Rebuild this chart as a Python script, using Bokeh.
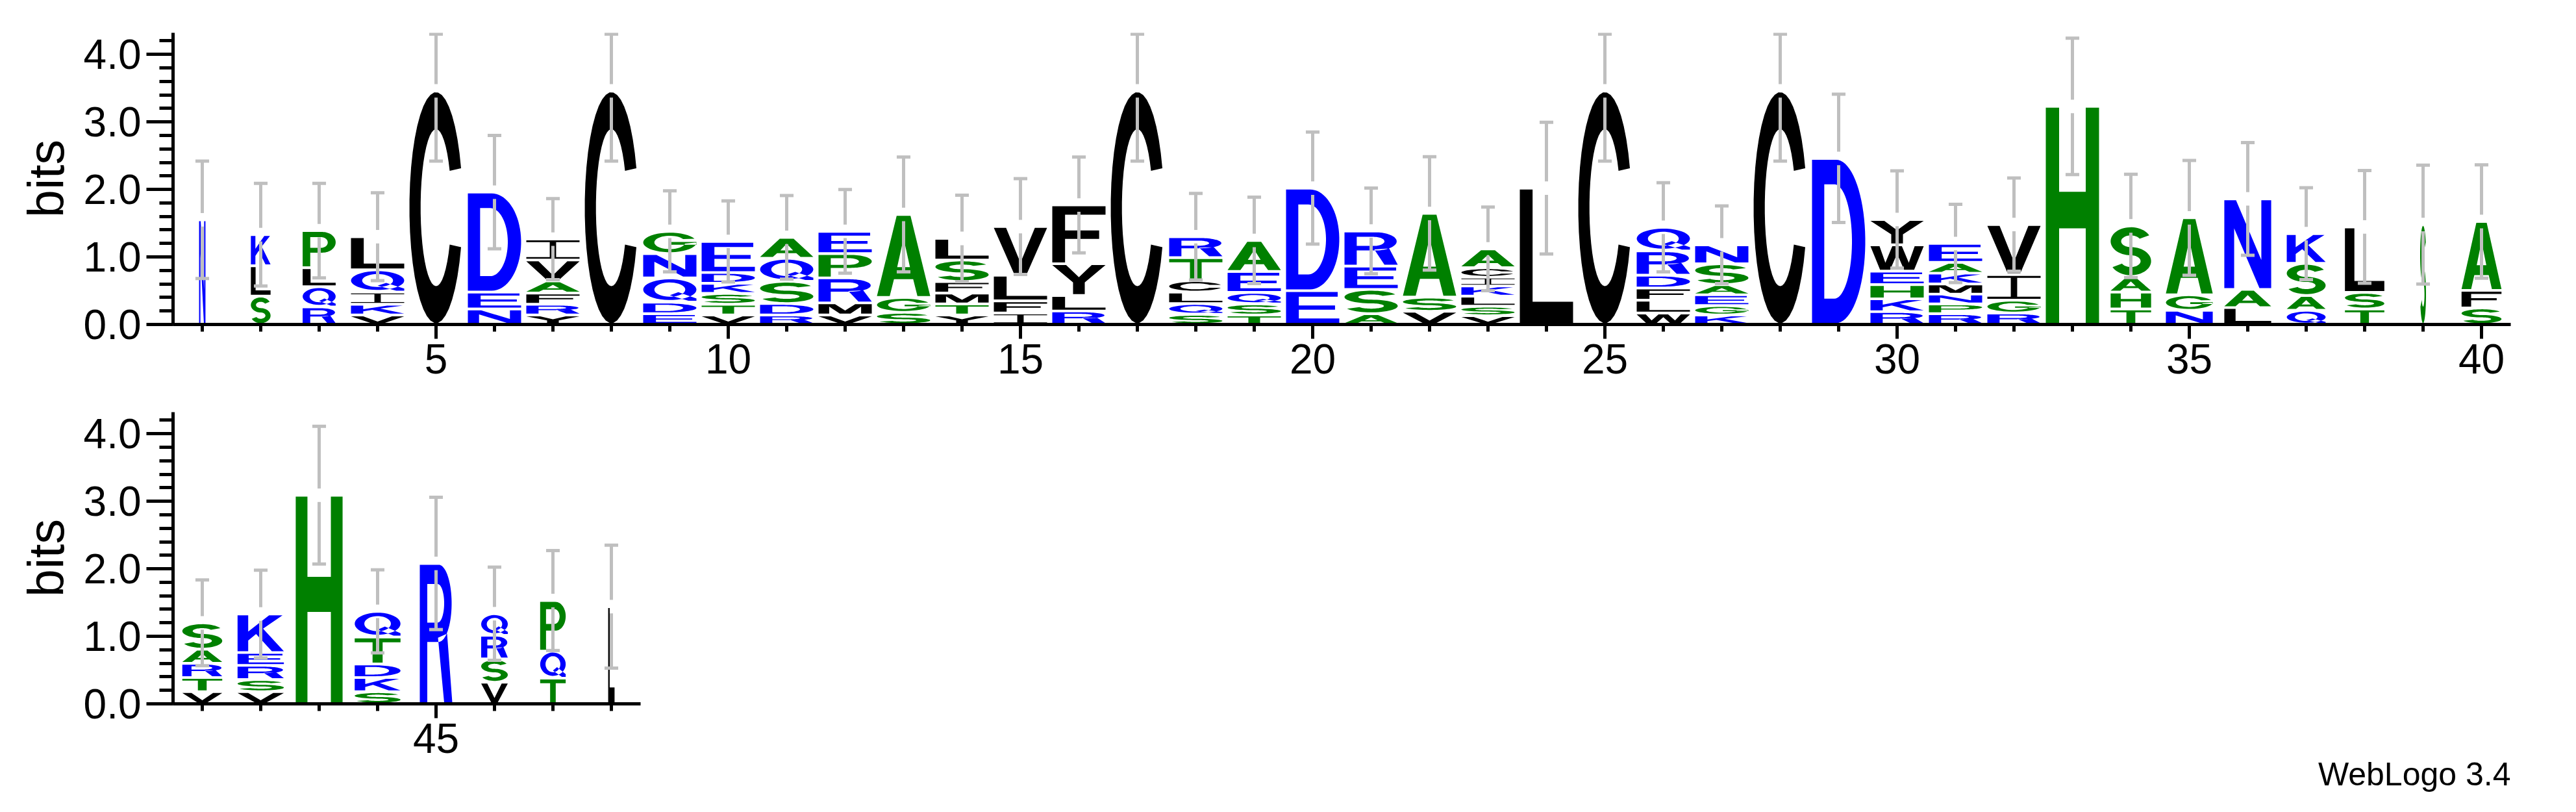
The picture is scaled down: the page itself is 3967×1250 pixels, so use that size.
import numpy as np
from bokeh.plotting import figure
from bokeh.models import (Range1d, SingleIntervalTicker, PrintfTickFormatter,
                          ColumnDataSource, Title)
from bokeh.layouts import column
from bokeh.embed import file_html
from bokeh.resources import INLINE

# ------------------------------------------------------------------ data
positions = list(range(1, 49))
# letters of each stack, bottom -> top
stack_letters = ["N", "SLK", "RQLP", "VKIQL", "C", "NED", "YRFAVI", "C", "EDQNG", "VTSKDE",
                 "RDSQA", "VMRPE", "SGA", "YTMFSL", "IFLV", "RLYF", "C", "SQLCTR", "TSQEA", "ED",
                 "ASER", "VSA", "VSLKICA", "L", "C", "WLFDRQ", "KGEASN", "C", "D", "RKHEWY",
                 "RPNMKAE", "RGIV", "H", "THAS", "NGA", "LAN", "QASK", "TSL", "S", "SFA",
                 "VTRAS", "VSREK", "H", "SKDTQ", "R", "VSRQ", "TQP", "L"]
# letter heights in bits, bottom -> top
stack_heights = [
    [1.55], [0.42, 0.45, 0.46], [0.26, 0.30, 0.28, 0.55], [0.14, 0.16, 0.18, 0.33, 0.49],
    [3.46], [0.23, 0.25, 1.48], [0.14, 0.16, 0.165, 0.18, 0.31, 0.31], [3.46],
    [0.16, 0.17, 0.36, 0.36, 0.33], [0.14, 0.16, 0.16, 0.15, 0.16, 0.46],
    [0.14, 0.17, 0.33, 0.34, 0.31], [0.14, 0.18, 0.37, 0.36, 0.33],
    [0.18, 0.22, 1.23], [0.14, 0.165, 0.16, 0.17, 0.32, 0.32], [0.17, 0.18, 0.38, 0.72],
    [0.20, 0.23, 0.47, 0.87], [3.46], [0.15, 0.16, 0.17, 0.17, 0.34, 0.31],
    [0.14, 0.165, 0.17, 0.31, 0.46], [0.50, 1.52], [0.16, 0.36, 0.345, 0.52],
    [0.195, 0.21, 1.24], [0.13, 0.14, 0.15, 0.15, 0.13, 0.14, 0.28], [2.02], [3.46],
    [0.17, 0.19, 0.18, 0.19, 0.36, 0.35], [0.14, 0.14, 0.16, 0.15, 0.31, 0.28], [3.46],
    [2.46], [0.19, 0.19, 0.21, 0.20, 0.39, 0.375], [0.16, 0.145, 0.145, 0.15, 0.16, 0.16, 0.28],
    [0.17, 0.19, 0.38, 0.74], [3.23], [0.23, 0.25, 0.23, 0.75], [0.21, 0.23, 1.14],
    [0.25, 0.27, 1.34], [0.21, 0.22, 0.475, 0.44], [0.23, 0.245, 0.97], [1.48],
    [0.245, 0.26, 1.02],
    [0.18, 0.21, 0.21, 0.21, 0.39], [0.18, 0.18, 0.21, 0.19, 0.57], [3.09],
    [0.18, 0.21, 0.20, 0.40, 0.38], [2.08], [0.32, 0.345, 0.35, 0.32], [0.38, 0.40, 0.75],
    [1.44]]
# relative stack width (fraction of non-gap sequences)
stack_width = [0.12, 0.37, 0.62] + [1.0] * 30 + [0.76, 0.88, 0.88, 0.73, 0.74, 0.11, 0.75,
               0.75, 0.87, 0.88, 0.86, 0.61, 0.50, 0.48, 0.12]
# error bar half-length in bits
error_bar = [0.87, 0.76, 0.70, 0.65, 1.04, 0.84, 0.60, 1.04, 0.60, 0.60,
             0.62, 0.62, 0.85, 0.64, 0.71, 0.71, 1.04, 0.64, 0.64, 0.83,
             0.635, 0.84, 0.62, 0.975, 1.04, 0.66, 0.575, 1.04, 0.95, 0.72,
             0.58, 0.69, 1.01, 0.765, 0.85, 0.835, 0.68, 0.835, 0.88, 0.84,
             0.635, 0.65, 1.02, 0.615, 0.98, 0.69, 0.74, 0.91]
y_axis_label = "bits"
credit = "WebLogo 3.4"

# ------------------------------------------------------------------ style
FONT = "Liberation Sans"
YMAX = 4.32
LETTER_W = 82.0 / 90.0
PAD = 0.02
BLUE, GREEN, BLACK, GREY = "#0000FF", "#008000", "#000000", "#BFBFBF"
COLORS = {}
for c in "RKDENQ":
    COLORS[c] = BLUE
for c in "SGHTAP":
    COLORS[c] = GREEN
for c in "YVMCLFIW":
    COLORS[c] = BLACK


def arc(cx, cy, rx, ry, a0, a1, n=40):
    t = np.radians(np.linspace(a0, a1, n))
    return list(zip(cx + rx * np.cos(t), cy + ry * np.sin(t)))


# glyph outlines in a unit box: list of polygons, each a list of rings
SHAPES = {
    "A": [[[(0, 0), (0.37, 1), (0.63, 1), (1, 0), (0.76, 0), (0.68, 0.21), (0.32, 0.21), (0.24, 0)],
           [(0.38, 0.36), (0.62, 0.36), (0.5, 0.72)]]],
    "C": [[arc(0.5, 0.5, 0.5, 0.5, 20, 340) + arc(0.5, 0.5, 0.29, 0.34, 332, 28)]],
    "D": [[[(0, 0), (0.45, 0)] + arc(0.45, 0.5, 0.55, 0.5, -90, 90) + [(0.45, 1), (0, 1)],
           [(0.23, 0.15), (0.42, 0.15)] + arc(0.42, 0.5, 0.33, 0.35, -90, 90) + [(0.42, 0.85), (0.23, 0.85)]]],
    "E": [[[(0, 0), (1, 0), (1, 0.15), (0.24, 0.15), (0.24, 0.43), (0.92, 0.43), (0.92, 0.57),
            (0.24, 0.57), (0.24, 0.85), (0.97, 0.85), (0.97, 1), (0, 1)]]],
    "F": [[[(0, 0), (0.24, 0), (0.24, 0.42), (0.88, 0.42), (0.88, 0.57), (0.24, 0.57),
            (0.24, 0.85), (1, 0.85), (1, 1), (0, 1)]]],
    "G": [[arc(0.5, 0.5, 0.5, 0.5, 22, 360) + arc(0.5, 0.5, 0.29, 0.34, 350, 30)],
          [[(0.52, 0.38), (1.0, 0.38), (1.0, 0.52), (0.52, 0.52)]]],
    "H": [[[(0, 0), (0.25, 0), (0.25, 0.44), (0.75, 0.44), (0.75, 0), (1, 0), (1, 1), (0.75, 1),
            (0.75, 0.61), (0.25, 0.61), (0.25, 1), (0, 1)]]],
    "I": [[[(0, 0), (1, 0), (1, 0.09), (0.56, 0.09), (0.56, 0.91), (1, 0.91), (1, 1), (0, 1),
            (0, 0.91), (0.44, 0.91), (0.44, 0.09), (0, 0.09)]]],
    "K": [[[(0, 0), (0.23, 0), (0.23, 0.3), (0.4, 0.48), (0.74, 0), (1, 0), (0.55, 0.63),
            (0.97, 1), (0.68, 1), (0.23, 0.55), (0.23, 1), (0, 1)]]],
    "L": [[[(0, 0), (1, 0), (1, 0.16), (0.24, 0.16), (0.24, 1), (0, 1)]]],
    "M": [[[(0, 0), (0.2, 0), (0.2, 0.75), (0.4, 0), (0.6, 0), (0.8, 0.75), (0.8, 0), (1, 0),
            (1, 1), (0.69, 1), (0.5, 0.33), (0.31, 1), (0, 1)]]],
    "N": [[[(0, 0), (0.21, 0), (0.21, 0.68), (0.75, 0), (1, 0), (1, 1), (0.79, 1), (0.79, 0.32),
            (0.25, 1), (0, 1)]]],
    "P": [[[(0, 0), (0.23, 0), (0.23, 0.4), (0.6, 0.4)] + arc(0.6, 0.7, 0.4, 0.3, -90, 90) + [(0, 1)],
           [(0.23, 0.54), (0.56, 0.54)] + arc(0.56, 0.695, 0.2, 0.155, -90, 90) + [(0.23, 0.85)]]],
    "Q": [[arc(0.5, 0.52, 0.5, 0.48, 0, 360), arc(0.5, 0.52, 0.29, 0.33, 0, 360)],
          [[(0.5, 0.26), (0.66, 0.4), (1.0, 0.11), (1.0, 0.0), (0.85, 0.0)]]],
    "R": [[[(0, 0), (0.23, 0), (0.23, 0.44), (0.58, 0.44)] + arc(0.58, 0.72, 0.4, 0.28, -90, 90) + [(0, 1)],
           [(0.23, 0.58), (0.55, 0.58)] + arc(0.55, 0.72, 0.2, 0.14, -90, 90) + [(0.23, 0.86)]],
          [[(0.56, 0.47), (0.84, 0.5), (1.0, 0.0), (0.75, 0.0)]]],
    "S": [[arc(0.5, 0.7075, 0.5, 0.2925, 25, 270) + arc(0.5, 0.7075, 0.24, 0.1225, 270, 25)],
          [arc(0.5, 0.2925, 0.5, 0.2925, 90, -155) + arc(0.5, 0.2925, 0.24, 0.1225, -155, 90)]],
    "T": [[[(0, 1), (1, 1), (1, 0.84), (0.61, 0.84), (0.61, 0), (0.39, 0), (0.39, 0.84), (0, 0.84)]]],
    "V": [[[(0, 1), (0.23, 1), (0.5, 0.24), (0.77, 1), (1, 1), (0.62, 0), (0.38, 0)]]],
    "W": [[[(0, 1), (0.17, 1), (0.28, 0.3), (0.41, 1), (0.59, 1), (0.72, 0.3), (0.83, 1), (1, 1),
            (0.82, 0), (0.63, 0), (0.5, 0.68), (0.37, 0), (0.18, 0)]]],
    "Y": [[[(0, 1), (0.26, 1), (0.5, 0.58), (0.74, 1), (1, 1), (0.61, 0.4), (0.61, 0), (0.39, 0),
            (0.39, 0.4)]]],
}


def build_sources(sel):
    xs, ys, cols = [], [], []
    ex0, ey0, ex1, ey1 = [], [], [], []
    for i in sel:
        xc = positions[i]
        w = LETTER_W * stack_width[i]
        base = 0.0
        for ch, h in zip(stack_letters[i], stack_heights[i]):
            yb, yt = base + PAD, base + h - PAD
            lx, ly = [], []
            for poly in SHAPES[ch]:
                px, py = [], []
                for ring in poly:
                    u = np.array([p[0] for p in ring])
                    v = np.array([p[1] for p in ring])
                    px.append(list(xc - w / 2 + u * w))
                    py.append(list(yb + v * (yt - yb)))
                lx.append(px)
                ly.append(py)
            xs.append(lx)
            ys.append(ly)
            cols.append(COLORS[ch])
            base += h
        top = base
        e = error_bar[i]
        hi = min(top + e, YMAX - 0.02)
        lo = top - e
        gap = 0.1
        cap = 0.117
        for a, b in ((top + gap, hi), (lo, top - gap)):
            ex0.append(xc); ex1.append(xc); ey0.append(a); ey1.append(b)
        for yy in (hi, lo):
            ex0.append(xc - cap); ex1.append(xc + cap); ey0.append(yy); ey1.append(yy)
    letters = ColumnDataSource(dict(xs=xs, ys=ys, color=cols))
    errs = ColumnDataSource(dict(x0=ex0, y0=ey0, x1=ex1, y1=ey1))
    return letters, errs


def make_fig(sel, x0, x1, height, top, bottom, xbounds):
    p = figure(width=3950, height=height, x_range=Range1d(x0, x1), y_range=Range1d(0, YMAX),
               output_backend="svg", toolbar_location=None, title=None,
               min_border_left=266, min_border_right=84, min_border_top=top,
               min_border_bottom=bottom)
    p.xgrid.visible = False
    p.ygrid.visible = False
    p.outline_line_color = None
    letters, errs = build_sources(sel)
    p.multi_polygons(xs="xs", ys="ys", fill_color="color", line_color=None, source=letters)
    p.segment(x0="x0", y0="y0", x1="x1", y1="y1", line_color=GREY, line_width=5, source=errs)
    xa, ya = p.xaxis[0], p.yaxis[0]
    xa.ticker = SingleIntervalTicker(interval=5, num_minor_ticks=5)
    ya.ticker = SingleIntervalTicker(interval=1, num_minor_ticks=5)
    ya.formatter = PrintfTickFormatter(format="%.1f")
    xa.bounds = xbounds
    for ax in (xa, ya):
        ax.axis_line_width = 5
        ax.axis_line_color = "black"
        ax.major_tick_line_width = 5
        ax.minor_tick_line_width = 5
        ax.major_tick_line_color = "black"
        ax.minor_tick_line_color = "black"
        ax.major_tick_in = 0
        ax.minor_tick_in = 0
        ax.major_label_text_font = FONT
        ax.major_label_text_font_size = "64px"
        ax.major_label_text_color = "black"
        ax.major_label_standoff = 8
    xa.major_tick_out = 22
    xa.minor_tick_out = 11
    ya.major_tick_out = 41
    ya.minor_tick_out = 21
    ya.axis_label = y_axis_label
    ya.axis_label_text_font = FONT
    ya.axis_label_text_font_size = "77px"
    ya.axis_label_text_font_style = "normal"
    ya.axis_label_text_color = "black"
    ya.axis_label_standoff = 12
    return p


top_sel = [i for i, pos in enumerate(positions) if pos <= 40]
bot_sel = [i for i, pos in enumerate(positions) if pos > 40]

# both panels share the same scale: 90 px per position, 104 px per bit
p1 = make_fig(top_sel, 0.5, 40.5, 609, 50, 110, (0.5, 40.5))
p2 = make_fig(bot_sel, 40.5, 80.5, 637, 25, 163, (40.5, 48.5))

# credit line under the second panel, right-aligned with the frame
p2.add_layout(Title(text=credit, align="right", text_font=FONT, text_font_size="50px",
                    text_font_style="normal", text_color="black", standoff=0), "below")

layout = column(p1, p2, spacing=0)
open("out.html", "w").write(file_html(layout, INLINE))
